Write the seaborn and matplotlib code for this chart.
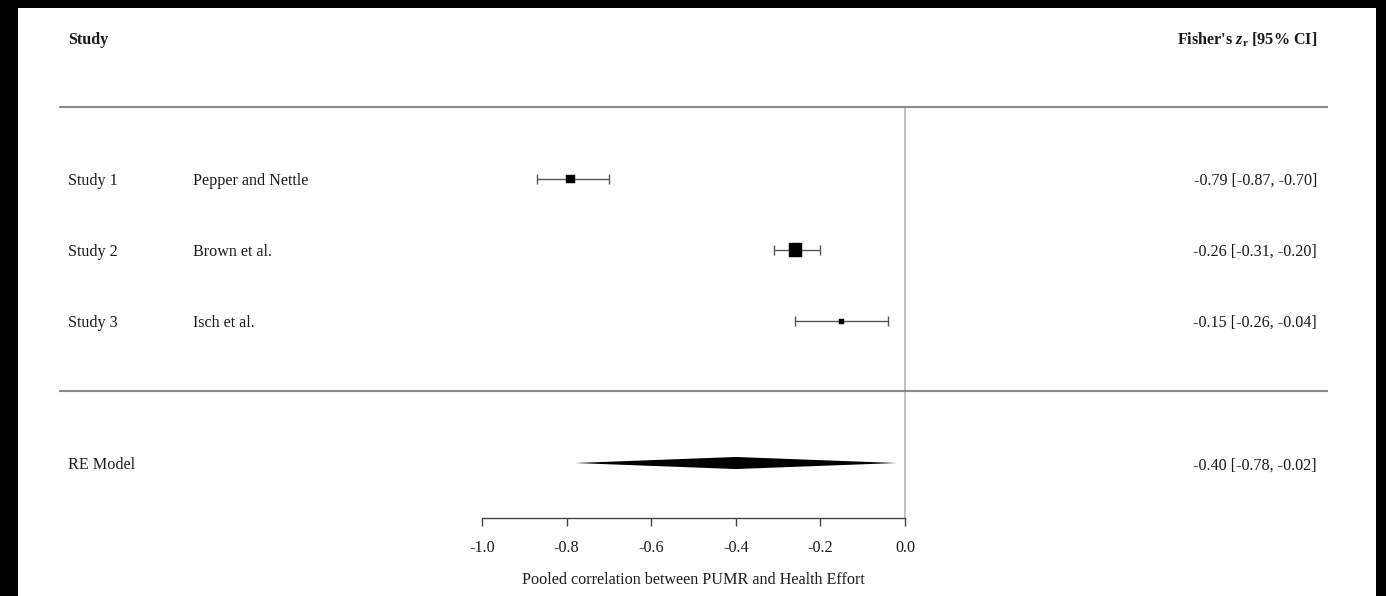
import numpy as np
import pandas as pd
import matplotlib
matplotlib.use("Agg")
import matplotlib.pyplot as plt
import seaborn as sns
from matplotlib.patches import Rectangle
from matplotlib.ticker import FuncFormatter

# ---------------- data ----------------
studies = ["Study 1", "Study 2", "Study 3"]
authors = ["Pepper and Nettle", "Brown et al.", "Isch et al."]
estimates = [-0.79, -0.26, -0.15]
ci_lower = [-0.87, -0.31, -0.26]
ci_upper = [-0.70, -0.20, -0.04]
weights = [32.8, 37.1, 30.1]
pooled_label = "RE Model"
pooled_est = -0.40
pooled_lo = -0.78
pooled_hi = -0.02
x_ticks = [-1.0, -0.8, -0.6, -0.4, -0.2, 0.0]
x_label = "Pooled correlation between PUMR and Health Effort"
header_left = "Study"
header_right = r"Fisher's $\mathbfit{z}_{\mathbf{r}}$ [95% CI]"

# ---------------- style ----------------
sns.set_theme(style="white")
plt.rcParams["font.family"] = ["Liberation Serif", "DejaVu Serif"]
plt.rcParams["axes.unicode_minus"] = False
plt.rcParams["mathtext.fontset"] = "custom"
plt.rcParams["mathtext.rm"] = "Liberation Serif"
plt.rcParams["mathtext.it"] = "Liberation Serif:italic"
plt.rcParams["mathtext.bf"] = "Liberation Serif:bold"
plt.rcParams["mathtext.bfit"] = "Liberation Serif:italic:bold"

FS = 11.6
TXT = "#1a1a1a"

df = pd.DataFrame({
    "study": studies, "author": authors, "est": estimates,
    "lo": ci_lower, "hi": ci_upper, "w": weights,
})
df["row"] = np.arange(len(df))
pooled_row = len(df) + 1

fig = plt.figure(figsize=(13.86, 5.96), dpi=100, facecolor="black")
fig.patches.append(Rectangle((18 / 1386, 0), 1358 / 1386, 588 / 596,
                             transform=fig.transFigure, facecolor="white",
                             edgecolor="none", zorder=-5))
ax = fig.add_axes([0, 0, 1, 1])
ax.set_facecolor("none")
ax.set_zorder(1)

# confidence intervals
ax.errorbar(df["est"], df["row"],
            xerr=[df["est"] - df["lo"], df["hi"] - df["est"]],
            fmt="none", ecolor="#555555", elinewidth=1.0,
            capsize=3.5, capthick=1.0, zorder=3)
# point estimates (size ~ weight)
sns.scatterplot(data=df, x="est", y="row", size="w", sizes=(13, 88),
                marker="s", color="black", edgecolor="black", linewidth=0.3,
                legend=False, ax=ax, zorder=4)

# pooled diamond
h = 0.085
ax.fill([pooled_lo, pooled_est, pooled_hi, pooled_est],
        [pooled_row, pooled_row - h, pooled_row, pooled_row + h],
        color="black", lw=0, zorder=4)

# separator lines & reference line
axis_y = 4.77
ax.hlines([-1.014, 2.99], -2.0, 1.0, color="#8a8a8a", lw=1.5, zorder=2)
ax.vlines(0, -1.014, axis_y, color="#b0b0b0", lw=1.1, zorder=1)

# text columns
dy = 0.03
x_study, x_author, x_right = -1.979, -1.683, 0.974
ax.text(x_study, -1.99 + dy, header_left, fontsize=FS, fontweight="bold",
        ha="left", va="center", color=TXT)
ax.text(x_right, -1.99 + dy, header_right, fontsize=FS, fontweight="bold",
        ha="right", va="center", color=TXT)
for _, r in df.iterrows():
    ax.text(x_study, r["row"] + dy, r["study"], fontsize=FS, ha="left",
            va="center", color=TXT)
    ax.text(x_author, r["row"] + dy, r["author"], fontsize=FS, ha="left",
            va="center", color=TXT)
    ax.text(x_right, r["row"] + dy,
            f"{r['est']:.2f} [{r['lo']:.2f}, {r['hi']:.2f}]",
            fontsize=FS, ha="right", va="center", color=TXT)
ax.text(x_study, pooled_row + dy, pooled_label, fontsize=FS, ha="left",
        va="center", color=TXT)
ax.text(x_right, pooled_row + dy,
        f"{pooled_est:.2f} [{pooled_lo:.2f}, {pooled_hi:.2f}]",
        fontsize=FS, ha="right", va="center", color=TXT)

# axes
ax.set_xlim(-2.1395, 1.1371)
ax.set_ylim(5.873, -2.521)
for s in ["top", "left", "right"]:
    ax.spines[s].set_visible(False)
ax.spines["bottom"].set_position(("data", axis_y))
ax.spines["bottom"].set_bounds(x_ticks[0], x_ticks[-1])
ax.spines["bottom"].set_color("#444444")
ax.spines["bottom"].set_linewidth(1.0)
ax.set_xticks(x_ticks)
ax.xaxis.set_major_formatter(FuncFormatter(lambda v, p: f"{v:.1f}"))
ax.tick_params(axis="x", bottom=True, direction="out", length=6, width=1.0,
               color="#444444", labelsize=FS, labelcolor=TXT, pad=10)
ax.set_yticks([])
ax.set_ylabel("")
ax.set_xlabel(x_label, fontsize=FS, color=TXT, labelpad=11.5)
ax.grid(False)

fig.savefig("out.png", dpi=100, facecolor=fig.get_facecolor())
